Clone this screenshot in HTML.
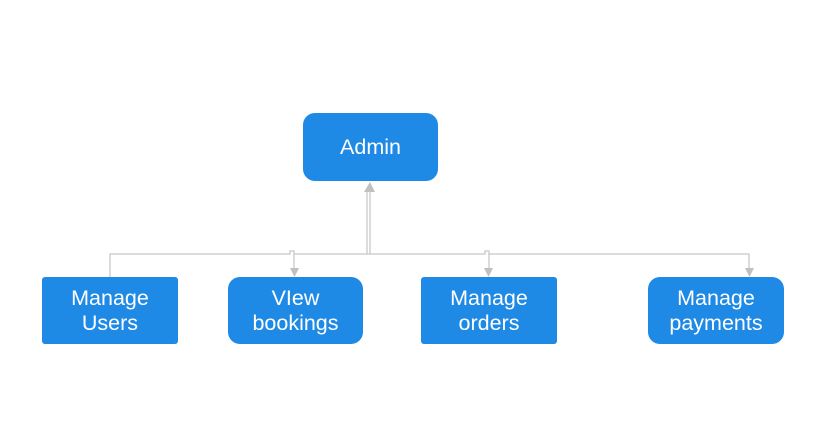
<!DOCTYPE html>
<html><head><style>
body{margin:0;width:825px;height:423px;background:#fff;overflow:hidden;font-family:"Liberation Sans",sans-serif}
.b{position:absolute;background:#1e8ae5;color:#fff;font-size:21.5px;line-height:25px;text-align:center;display:flex;align-items:center;justify-content:center}
</style></head><body>
<svg width="825" height="423" style="position:absolute;left:0;top:0" fill="none" stroke="#c8c8c8" stroke-width="1.3">
<path d="M110 277V254H290V251H294V254H485V251H489V254H749V270"/>
<path d="M294 254V270M489 254V270"/>
<path d="M367 254V190M370 254V190"/>
<g fill="#c0c0c0" stroke="none">
<path d="M364 192L370 182L375 192Z"/>
<path d="M290 268L299 268L294.5 277Z"/>
<path d="M484 268L493 268L488.5 277Z"/>
<path d="M745 268L754 268L749.5 277Z"/>
</g>
</svg>
<div class="b" style="left:303px;top:113px;width:135px;height:68px;border-radius:12px">Admin</div>
<div class="b" style="left:42px;top:277px;width:136px;height:67px;border-radius:3px">Manage<br>Users</div>
<div class="b" style="left:228px;top:277px;width:135px;height:67px;border-radius:12px">VIew<br>bookings</div>
<div class="b" style="left:421px;top:277px;width:136px;height:67px;border-radius:3px">Manage<br>orders</div>
<div class="b" style="left:648px;top:277px;width:136px;height:67px;border-radius:12px">Manage<br>payments</div>
</body></html>
